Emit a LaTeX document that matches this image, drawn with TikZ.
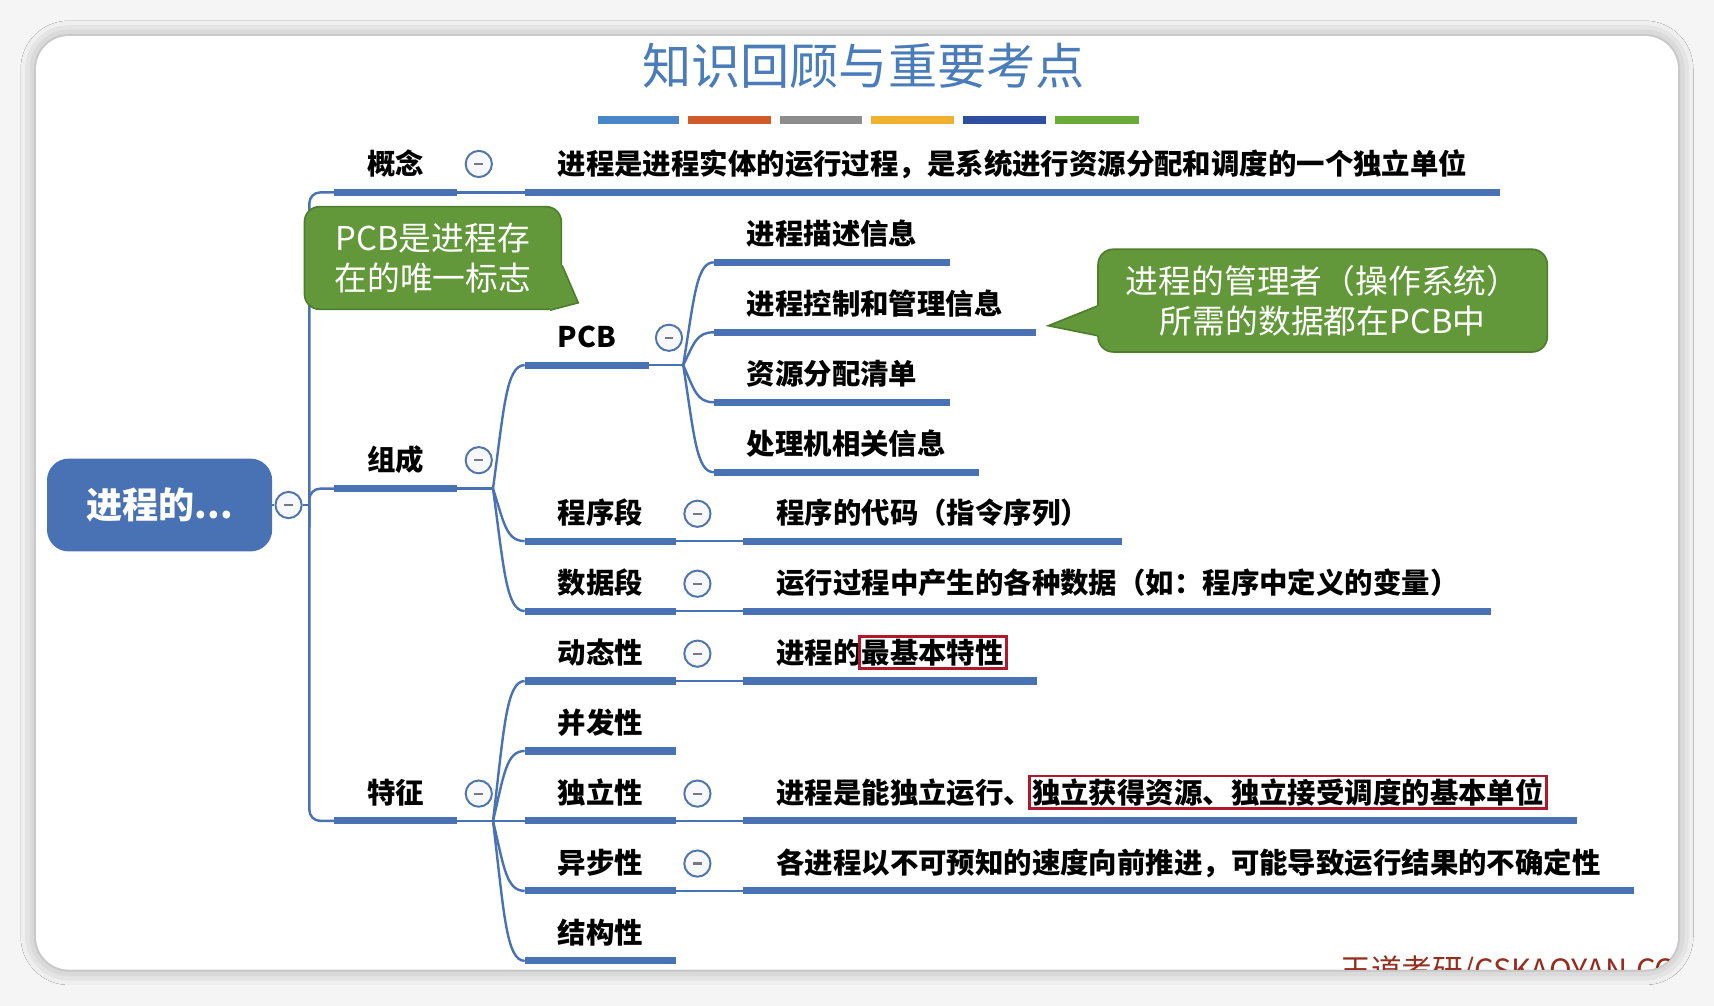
\documentclass[tikz,border=0pt]{standalone}
\usepackage{fontspec}
\setmainfont{Noto Sans CJK SC}
\usetikzlibrary{shadows.blur}

\definecolor{mapblue}{RGB}{72,114,180}
\definecolor{titleblue}{RGB}{74,124,186}
\definecolor{notegreen}{RGB}{98,152,58}
\definecolor{noteborder}{RGB}{78,125,45}
\definecolor{foldgray}{RGB}{120,120,130}
\definecolor{hlred}{RGB}{178,24,43}
\definecolor{markred}{RGB}{150,45,30}
\definecolor{barblue}{RGB}{74,134,200}
\definecolor{barorange}{RGB}{208,90,42}
\definecolor{bargray}{RGB}{140,140,140}
\definecolor{baryellow}{RGB}{240,176,48}
\definecolor{bardark}{RGB}{45,79,158}
\definecolor{bargreen}{RGB}{106,170,58}

\newcommand{\hlbox}[1]{{\setlength{\fboxsep}{1pt}\setlength{\fboxrule}{2.5pt}\kern-3.5pt\textcolor{hlred}{\fbox{\textcolor{black}{#1}}}\kern-3.5pt}}

\tikzset{
  uline/.style={draw=mapblue, line width=6.5pt},
  topic/.style={anchor=south west, inner xsep=30pt, inner ysep=16pt, text depth=0pt,
    font=\fontsize{26}{26}\selectfont\bfseries,
    append after command={\pgfextra{\let\mainnode=\tikzlastnode}
      (\mainnode.south west) edge[uline] (\mainnode.south east)}},
  branch/.style={draw=mapblue, line width=2.2pt},
  fold/.style={circle, draw=mapblue!85!gray, fill=mapblue!5, line width=1.8pt,
    minimum size=24pt, inner sep=0pt,
    path picture={\draw[foldgray, line width=2pt]
      ([xshift=-4pt]path picture bounding box.center) -- ([xshift=4pt]path picture bounding box.center);}},
  note/.style={fill=notegreen, draw=noteborder, line width=1.5pt, rounded corners=14pt,
    text=white, align=center, font=\fontsize{30}{37}\selectfont},
  bar/.style={line width=7pt}
}

\begin{document}
\begin{tikzpicture}[x=1pt, y=-1pt]
\useasboundingbox (0,0) rectangle (1568,920);
\fill[gray!8] (0,0) rectangle (1568,920);
\fill[white, rounded corners=30pt, blur shadow={shadow xshift=0pt, shadow yshift=0pt, shadow blur radius=14pt, shadow opacity=35}] (33,33) rectangle (1535,887);

% title
\node[font=\fontsize{45}{45}\selectfont, text=titleblue] (title) at (790,60) {知识回顾与重要考点};
\draw[bar, barblue] (547,110) -- (621,110);
\draw[bar, barorange] (629,110) -- (705,110);
\draw[bar, bargray] (714,110) -- (789,110);
\draw[bar, baryellow] (797,110) -- (873,110);
\draw[bar, bardark] (881,110) -- (957,110);
\draw[bar, bargreen] (965,110) -- (1042,110);

% root
\node[fill=mapblue, rounded corners=20pt, minimum width=206pt, minimum height=85pt, text=white, font=\fontsize{33}{33}\selectfont\bfseries] (root) at (146,462) {进程的...};
\node[fold] (root-f) at (264,462) {};
\coordinate (trunk) at (283,462);

% first level
\node[topic] (concept) at (306,176) {概念};
\node[fold] (concept-f) at (438,150) {};
\node[topic] (concept-d) at (480,176) {进程是进程实体的运行过程，是系统进行资源分配和调度的一个独立单位};

\node[topic] (comp) at (306,447) {组成};
\node[fold] (comp-f) at (438,421) {};
\coordinate (comp-o) at (451,447);

\node[topic] (feat) at (306,751) {特征};
\node[fold] (feat-f) at (438,726) {};
\coordinate (feat-o) at (451,751);

% composition
\node[topic] (pcb) at (480,334) {PCB};
\node[fold] (pcb-f) at (612,309) {};
\coordinate (pcb-o) at (625,334);
\node[topic] (pcb-desc) at (653,240) {进程描述信息};
\node[topic] (pcb-ctrl) at (653,304) {进程控制和管理信息};
\node[topic] (pcb-res) at (653,368) {资源分配清单};
\node[topic] (pcb-cpu) at (653,432) {处理机相关信息};

\node[topic] (prog) at (480,495) {程序段};
\node[fold] (prog-f) at (638,470) {};
\node[topic] (prog-d) at (680,495) {程序的代码（指令序列）};

\node[topic] (data) at (480,559) {数据段};
\node[fold] (data-f) at (638,534) {};
\node[topic] (data-d) at (680,559) {运行过程中产生的各种数据（如：程序中定义的变量）};

% features
\node[topic] (dyn) at (480,623) {动态性};
\node[fold] (dyn-f) at (638,598) {};
\node[topic] (dyn-d) at (680,623) {进程的\hlbox{最基本特性}};

\node[topic] (conc) at (480,687) {并发性};

\node[topic] (indep) at (480,751) {独立性};
\node[fold] (indep-f) at (638,726) {};
\node[topic] (indep-d) at (680,751) {进程是能独立运行、\hlbox{独立获得资源、独立接受调度的基本单位}};

\node[topic] (async) at (480,815) {异步性};
\node[fold] (async-f) at (638,790) {};
\node[topic] (async-d) at (680,815) {各进程以不可预知的速度向前推进，可能导致运行结果的不确定性};

\node[topic] (struct) at (480,879) {结构性};

% connectors
\draw[branch] (root) -- (root-f);
\draw[branch] (root-f) -- (trunk);
\draw[branch, rounded corners=10pt] (concept.south west) -- (trunk |- concept.south west) -- (trunk |- feat.south west) -- (feat.south west);
\draw[branch, rounded corners=10pt] ([yshift=-20pt]trunk) |- (comp.south west);
\draw[branch] (concept.south east) -- (concept-d.south west);

\draw[branch] (comp.south east) -- (comp-o);
\draw[branch] (comp-o) .. controls (461,374) and (463,334) .. (pcb.south west);
\draw[branch] (comp-o) .. controls (461,478) and (463,495) .. (prog.south west);
\draw[branch] (comp-o) .. controls (461,520) and (463,559) .. (data.south west);

\draw[branch] (pcb.south east) -- (pcb-o);
\draw[branch] (pcb-o) .. controls (635,273) and (637,240) .. (pcb-desc.south west);
\draw[branch] (pcb-o) .. controls (635,314) and (637,304) .. (pcb-ctrl.south west);
\draw[branch] (pcb-o) .. controls (635,356) and (637,368) .. (pcb-res.south west);
\draw[branch] (pcb-o) .. controls (635,398) and (637,432) .. (pcb-cpu.south west);
\draw[branch] (prog.south east) -- (prog-d.south west);
\draw[branch] (data.south east) -- (data-d.south west);

\draw[branch] (feat.south east) -- (feat-o);
\draw[branch] (feat-o) .. controls (461,668) and (463,623) .. (dyn.south west);
\draw[branch] (feat-o) .. controls (461,709) and (463,687) .. (conc.south west);
\draw[branch] (feat-o) -- (indep.south west);
\draw[branch] (feat-o) .. controls (461,793) and (463,815) .. (async.south west);
\draw[branch] (feat-o) .. controls (461,834) and (463,879) .. (struct.south west);
\draw[branch] (dyn.south east) -- (dyn-d.south west);
\draw[branch] (indep.south east) -- (indep-d.south west);
\draw[branch] (async.south east) -- (async-d.south west);

% notes
\node[note, minimum width=235pt, minimum height=94pt] (pcb-note) at (396,236) {PCB是进程存\\在的唯一标志};
\coordinate (pcb-tip) at (529,277);
\fill[notegreen] ([xshift=-6pt,yshift=41pt]pcb-note.south east) -- ([yshift=41pt]pcb-note.south east) -- (pcb-tip) -- ([xshift=-11pt]pcb-note.south east) -- ([xshift=-14pt,yshift=6pt]pcb-note.south east) -- cycle;
\draw[noteborder, line width=1.5pt] ([yshift=41pt]pcb-note.south east) -- (pcb-tip) -- ([xshift=-11pt]pcb-note.south east);

\node[note, minimum width=411pt, minimum height=94pt] (os-note) at (1210,275) {进程的管理者（操作系统）\\所需的数据都在PCB中};
\coordinate (os-tip) at (959,298);
\fill[notegreen] ([yshift=-5pt]os-note.west) -- (os-tip) -- ([yshift=-32pt]os-note.west) -- ([xshift=6pt,yshift=-32pt]os-note.west) -- ([xshift=6pt,yshift=-5pt]os-note.west) -- cycle;
\draw[noteborder, line width=1.5pt] ([yshift=-5pt]os-note.west) -- (os-tip) -- ([yshift=-32pt]os-note.west);

% mark cut by the card
\begin{scope}
\clip[rounded corners=30pt] (33,33) rectangle (1535,887);
\node[anchor=north west, inner sep=0pt, text=markred, font=\fontsize{28}{28}\selectfont] (mark) at (1226,874) {王道考研/CSKAOYAN.COM};
\end{scope}
\end{tikzpicture}
\end{document}
